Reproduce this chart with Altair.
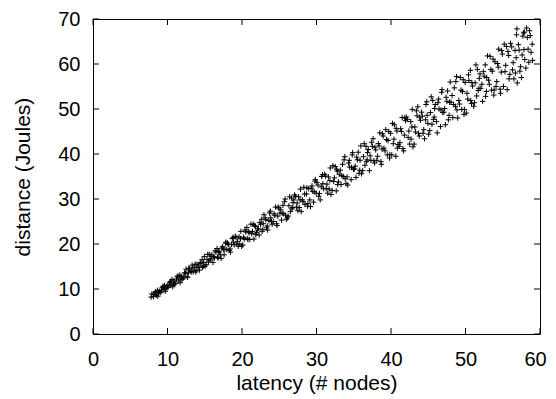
import altair as alt
import pandas as pd

# latency (# nodes) / distance (Joules), in four x-segments
lat_1 = [7.8, 7.9, 8.1, 8.35, 8.5, 8.65, 8.8, 8.95, 8.2, 8.4, 8.7, 8.85,
         9.1, 9.3, 9.5, 9.6, 9.8, 9.95, 9.2, 9.4, 9.7, 9.85,
         10.05, 10.3, 10.45, 10.6, 10.8, 10.95, 10.2, 10.4, 10.7, 10.85,
         11.1, 11.3, 11.5, 11.65, 11.8, 11.95, 11.2, 11.4, 11.7, 11.85,
         12.1, 12.3, 12.5, 12.65, 12.8, 12.95, 12.2, 12.4, 12.7, 12.85,
         13.05, 13.3, 13.45, 13.6, 13.8, 13.95, 13.2, 13.4, 13.7, 13.85,
         14.1, 14.3, 14.5, 14.65, 14.8, 14.95, 14.2, 14.4, 14.7, 14.85,
         15.05, 15.3, 15.5, 15.6, 15.8, 15.95, 15.2, 15.4, 15.7, 15.85,
         16.1, 16.3, 16.5, 16.65, 16.8, 16.95, 16.2, 16.4, 16.7, 16.85,
         17.1, 17.3, 17.5, 17.6, 17.8, 17.95, 17.2, 17.4, 17.7, 17.85,
         18.05, 18.3, 18.45, 18.6, 18.8, 18.95, 18.2, 18.4, 18.7, 18.85,
         19.1, 19.3, 19.5, 19.6, 19.8, 19.95, 19.2, 19.4, 19.7, 19.85]
dist_1 = [8.2, 8.9, 8.3, 9.2, 8.6, 9.7, 9.1, 9.5, 8.8, 9.4, 8.4, 9.3,
          9.2, 10.3, 9.9, 10.8, 10.1, 10.7, 9.8, 10.6, 9.5, 10.5,
          10.3, 11.4, 10.8, 12.1, 11.2, 11.1, 10.9, 11.7, 10.5, 11.8,
          11.3, 12.7, 11.8, 13.1, 12.4, 12.1, 12.2, 12.9, 11.4, 12.8,
          12.4, 13.6, 14.4, 12.7, 13.6, 14.5, 12.7, 13.5, 12.6, 14.6,
          14.0, 15.3, 13.8, 14.8, 13.8, 15.5, 13.8, 14.7, 15.5, 14.1,
          14.8, 14.2, 15.7, 16.5, 15.1, 17.2, 15.1, 15.9, 14.8, 15.9,
          15.1, 16.6, 16.0, 17.7, 16.7, 17.6, 15.4, 17.7, 16.4, 17.3,
          15.9, 16.9, 18.2, 19.0, 16.9, 18.2, 17.2, 18.5, 17.1, 18.4,
          17.6, 19.1, 18.8, 17.6, 20.2, 18.8, 16.8, 19.4, 18.8, 20.4,
          20.2, 18.6, 18.2, 19.9, 21.5, 19.8, 19.9, 18.9, 21.2, 20.4,
          21.7, 20.0, 19.5, 21.6, 21.2, 19.5, 21.5, 20.6, 20.0, 22.8]

lat_2 = [20.1, 20.3, 20.5, 20.65, 20.8, 20.95, 20.2, 20.4, 20.7, 20.85,
         21.05, 21.3, 21.5, 21.6, 21.8, 21.95, 21.2, 21.4, 21.7, 21.85,
         22.1, 22.3, 22.5, 22.65, 22.8, 22.95, 22.2, 22.4, 22.7, 22.85,
         23.1, 23.3, 23.45, 23.6, 23.8, 23.95, 23.2, 23.4, 23.7, 23.85,
         24.05, 24.3, 24.5, 24.65, 24.8, 24.95, 24.2, 24.4, 24.7, 24.85,
         25.1, 25.3, 25.5, 25.6, 25.8, 25.95, 25.2, 25.4, 25.7, 25.85,
         26.1, 26.3, 26.5, 26.65, 26.8, 26.95, 26.2, 26.4, 26.7, 26.85,
         27.05, 27.3, 27.5, 27.6, 27.8, 27.95, 27.2, 27.4, 27.7, 27.85,
         28.1, 28.3, 28.45, 28.65, 28.8, 28.95, 28.2, 28.4, 28.7, 28.85,
         29.1, 29.3, 29.5, 29.6, 29.8, 29.95, 29.2, 29.4, 29.7, 29.85,
         30.05, 30.3, 30.5, 30.65, 30.8, 30.95, 30.2, 30.4, 30.7, 30.85,
         31.1, 31.3, 31.5, 31.6, 31.8, 31.95, 31.2, 31.4, 31.7, 31.85,
         32.1, 32.3, 32.5, 32.65, 32.8, 32.95, 32.2, 32.4, 32.7, 32.85,
         33.05, 33.3, 33.5, 33.6, 33.8, 33.95, 33.2, 33.4, 33.7, 33.85]
dist_2 = [19.8, 21.1, 22.7, 23.7, 21.0, 22.5, 21.5, 23.1, 21.2, 22.8,
          21.0, 22.3, 24.4, 21.1, 23.9, 22.5, 24.4, 22.8, 24.1, 22.1,
          23.1, 22.0, 24.4, 25.5, 23.2, 26.5, 23.5, 24.8, 22.8, 24.5,
          25.8, 23.6, 23.1, 25.2, 27.3, 25.0, 25.4, 24.0, 26.9, 25.8,
          24.4, 26.7, 28.2, 24.5, 26.2, 28.0, 25.0, 26.4, 24.1, 28.2,
          26.9, 25.3, 28.6, 26.7, 30.0, 25.5, 27.6, 26.8, 29.4, 26.4,
          25.8, 28.5, 27.2, 30.2, 28.1, 29.8, 26.2, 30.5, 27.8, 29.2,
          30.9, 28.2, 27.4, 30.5, 29.8, 27.2, 30.6, 29.1, 28.1, 32.2,
          29.8, 32.6, 28.8, 31.1, 28.4, 32.3, 29.4, 31.1, 32.5, 29.0,
          29.8, 32.4, 31.7, 29.3, 34.0, 31.3, 28.3, 32.9, 31.6, 34.3,
          33.7, 30.6, 29.8, 32.7, 35.4, 32.3, 33.1, 31.2, 35.0, 33.4,
          35.5, 32.3, 31.3, 34.9, 34.1, 31.0, 35.1, 33.3, 32.2, 36.9,
          31.9, 33.9, 37.2, 31.8, 36.2, 33.8, 37.4, 34.7, 36.6, 33.2,
          35.5, 33.2, 37.7, 35.0, 39.4, 33.4, 36.4, 35.2, 38.7, 34.5]

lat_3 = [34.1, 34.3, 34.45, 34.65, 34.8, 34.95, 34.2, 34.4, 34.7, 34.85,
         35.1, 35.3, 35.5, 35.6, 35.8, 35.95, 35.2, 35.4, 35.7, 35.85,
         36.05, 36.3, 36.5, 36.65, 36.8, 36.95, 36.2, 36.4, 36.7, 36.85,
         37.1, 37.3, 37.5, 37.6, 37.8, 37.95, 37.2, 37.4, 37.7, 37.85,
         38.1, 38.3, 38.5, 38.65, 38.8, 38.95, 38.2, 38.4, 38.7, 38.85,
         39.05, 39.3, 39.5, 39.6, 39.8, 39.95, 39.2, 39.4, 39.7, 39.85,
         40.1, 40.3, 40.45, 40.65, 40.8, 40.95, 40.2, 40.4, 40.7, 40.85,
         41.1, 41.3, 41.5, 41.6, 41.8, 41.95, 41.2, 41.4, 41.7, 41.85,
         42.05, 42.3, 42.5, 42.65, 42.8, 42.95, 42.2, 42.4, 42.7, 42.85,
         43.1, 43.3, 43.5, 43.6, 43.8, 43.95, 43.2, 43.4, 43.7, 43.85,
         44.1, 44.3, 44.5, 44.65, 44.8, 44.95, 44.2, 44.4, 44.7, 44.85,
         45.05, 45.3, 45.5, 45.6, 45.8, 45.95, 45.2, 45.4, 45.7, 45.85,
         46.1, 46.3, 46.45, 46.65, 46.8, 46.95, 46.2, 46.4, 46.7, 46.85]
dist_3 = [34.9, 38.0, 37.1, 34.3, 39.8, 36.6, 33.1, 38.6, 37.0, 40.3,
          36.7, 34.8, 38.7, 40.4, 36.4, 41.8, 37.3, 39.3, 35.7, 38.6,
          35.6, 39.4, 37.5, 41.7, 38.7, 41.0, 36.3, 42.3, 38.3, 40.3,
          36.3, 38.6, 41.7, 43.4, 38.0, 40.9, 39.6, 42.6, 38.5, 41.5,
          38.6, 42.3, 44.7, 38.3, 41.1, 44.0, 39.5, 41.8, 37.7, 44.5,
          41.3, 45.4, 39.8, 43.0, 39.1, 44.6, 40.7, 43.2, 45.0, 39.9,
          39.8, 42.3, 46.5, 39.5, 45.1, 42.1, 46.8, 43.3, 45.7, 41.3,
          41.7, 45.6, 48.1, 41.2, 44.2, 47.4, 42.5, 45.0, 40.7, 48.0,
          48.2, 43.7, 42.2, 47.2, 46.0, 41.6, 47.7, 45.1, 43.3, 49.9,
          42.2, 44.9, 48.5, 50.5, 44.0, 47.5, 46.0, 49.6, 44.6, 48.2,
          49.3, 44.6, 43.4, 47.6, 51.6, 46.8, 48.4, 45.4, 51.0, 48.6,
          44.4, 49.2, 46.6, 51.9, 48.2, 51.0, 45.2, 52.7, 47.7, 50.1,
          47.2, 51.4, 50.0, 46.1, 53.7, 49.2, 44.7, 52.2, 49.8, 54.3]

lat_4 = [47.1, 47.3, 47.5, 47.6, 47.8, 47.95, 47.2, 47.4, 47.7, 47.85,
         48.05, 48.3, 48.5, 48.65, 48.8, 48.95, 48.2, 48.4, 48.7, 48.85,
         49.1, 49.3, 49.5, 49.6, 49.8, 49.95, 49.2, 49.4, 49.7, 49.85,
         50.1, 50.3, 50.45, 50.65, 50.8, 50.95, 50.2, 50.4, 50.7, 50.85,
         51.1, 51.3, 51.5, 51.6, 51.8, 51.95, 51.2, 51.4, 51.7, 51.85,
         52.05, 52.3, 52.5, 52.65, 52.8, 52.95, 52.2, 52.4, 52.7, 52.85,
         53.1, 53.3, 53.5, 53.6, 53.8, 53.95, 53.2, 53.4, 53.7, 53.85,
         54.1, 54.3, 54.45, 54.65, 54.8, 54.95, 54.2, 54.4, 54.7, 54.85,
         55.1, 55.3, 55.5, 55.6, 55.8, 55.95, 55.2, 55.4, 55.7, 55.85,
         56.05, 56.3, 56.5, 56.65, 56.8, 56.95, 56.2, 56.4, 56.7, 56.85,
         57.1, 57.3, 57.5, 57.6, 57.8, 57.95, 57.2, 57.4, 57.7, 57.85,
         58.1, 58.3, 58.5, 58.6, 58.8, 58.95, 58.4, 56.9, 57.9, 58.2, 58.7, 59.0]
dist_4 = [49.3, 46.5, 51.7, 54.0, 48.6, 56.0, 50.1, 52.6, 47.6, 51.5,
          51.5, 48.1, 54.7, 50.6, 57.2, 48.0, 53.0, 51.0, 56.1, 49.8,
          51.9, 57.0, 49.9, 53.9, 48.8, 55.9, 51.1, 54.2, 56.5, 49.9,
          49.1, 52.2, 56.3, 58.6, 51.2, 55.1, 53.5, 57.6, 51.9, 55.9,
          50.6, 55.8, 52.9, 58.8, 54.6, 57.8, 51.4, 59.8, 54.1, 56.8,
          54.6, 51.7, 57.3, 59.8, 53.9, 61.8, 55.5, 58.3, 52.8, 57.0,
          56.4, 61.7, 54.2, 58.4, 53.1, 60.5, 55.5, 58.8, 61.1, 54.2,
          55.0, 60.1, 63.3, 54.4, 58.2, 62.2, 56.1, 59.3, 53.5, 63.0,
          55.0, 58.3, 63.9, 54.3, 61.9, 57.7, 64.4, 59.7, 62.8, 56.7,
          64.6, 58.7, 56.7, 63.0, 61.4, 55.8, 63.8, 60.3, 58.0, 66.5,
          64.3, 58.4, 57.0, 62.0, 66.9, 61.0, 63.1, 59.4, 66.2, 63.2,
          59.1, 65.9, 60.4, 67.4, 62.6, 64.4, 63.3, 67.8, 67.1, 68.0, 66.3, 60.8]

x_ticks = [0, 10, 20, 30, 40, 50, 60]
y_ticks = [0, 10, 20, 30, 40, 50, 60, 70]

W, H = 447, 315
TICK = 6

pts = pd.DataFrame({
    "latency": lat_1 + lat_2 + lat_3 + lat_4,
    "distance": dist_1 + dist_2 + dist_3 + dist_4,
})
xt = pd.DataFrame({"v": x_ticks})
yt = pd.DataFrame({"v": y_ticks})

xscale = alt.Scale(domain=[0, 60], nice=False, zero=False)
yscale = alt.Scale(domain=[0, 70], nice=False, zero=False)

FONT = "Liberation Sans"

points = alt.Chart(pts).mark_point(
    shape="M-1,0L1,0M0,-1L0,1", filled=False, color="black",
    strokeWidth=1, size=30, opacity=1
).encode(
    x=alt.X("latency:Q", scale=xscale,
            axis=alt.Axis(values=x_ticks, title="latency (# nodes)", ticks=False,
                          domain=False, grid=False, labelPadding=15, titlePadding=3,
                          labelFlush=False, labelOverlap=False, format="d",
                          labelOffset={"condition": {"test": "datum.value == 60", "value": -5},
                                       "value": 0})),
    y=alt.Y("distance:Q", scale=yscale,
            axis=alt.Axis(values=y_ticks, title="distance (Joules)", ticks=False,
                          domain=False, grid=False, labelPadding=13, titlePadding=24,
                          labelFlush=False, labelOverlap=False, format="d")),
)

xb = alt.Chart(xt).mark_rule(color="black", strokeWidth=1).encode(
    x=alt.X("v:Q", scale=xscale), y=alt.value(H), y2=alt.value(H - TICK))
xtop = alt.Chart(xt).mark_rule(color="black", strokeWidth=1).encode(
    x=alt.X("v:Q", scale=xscale), y=alt.value(0), y2=alt.value(TICK))
yl = alt.Chart(yt).mark_rule(color="black", strokeWidth=1).encode(
    y=alt.Y("v:Q", scale=yscale), x=alt.value(0), x2=alt.value(TICK))
yr = alt.Chart(yt).mark_rule(color="black", strokeWidth=1).encode(
    y=alt.Y("v:Q", scale=yscale), x=alt.value(W), x2=alt.value(W - TICK))

chart = alt.layer(points, xb, xtop, yl, yr).properties(
    width=W, height=H,
    background="white",
    autosize=alt.AutoSizeParams(type="none"),
    padding={"left": 85, "top": 11, "right": 8, "bottom": 61},
).configure_view(
    stroke="black", strokeWidth=1
).configure_axis(
    labelFont=FONT, titleFont=FONT, labelFontSize=20, titleFontSize=21,
    labelColor="black", titleColor="black", titleFontWeight="normal",
)

chart.save("out.html", embed_options={"renderer": "svg", "actions": False})
